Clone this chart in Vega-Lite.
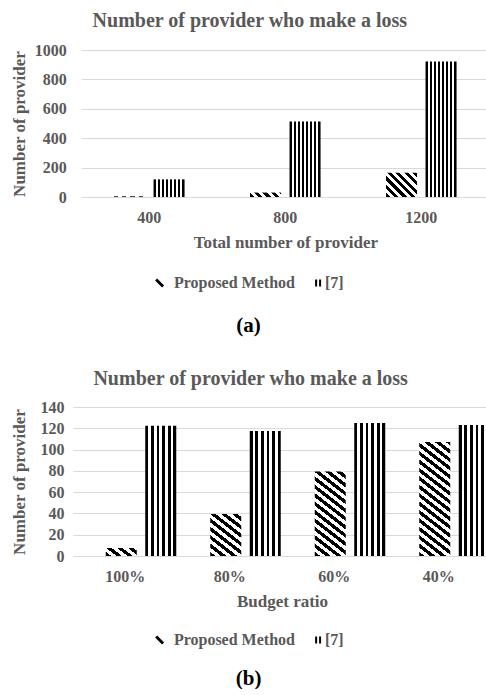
{
 "$schema": "https://vega.github.io/schema/vega-lite/v6.json",
 "background": "white",
 "padding": {"left": 10, "top": 11, "right": 0, "bottom": 0},
 "columns": 1,
 "align": "none",
 "spacing": 33,
 "resolve": {"scale": {"fill": "independent"}, "legend": {"fill": "independent"}},
 "config": {
  "font": "Liberation Serif",
  "view": {"stroke": null},
  "title": {"font": "Liberation Serif", "fontSize": 20, "fontWeight": "bold", "color": "#595959", "anchor": "middle", "frame": "bounds"},
  "axis": {"labelFont": "Liberation Serif", "labelFontWeight": "bold", "labelFontSize": 16, "labelColor": "#595959", "titleFont": "Liberation Serif", "titleFontWeight": "bold", "titleFontSize": 17, "titleColor": "#595959", "ticks": false, "gridColor": "#d9d9d9", "gridWidth": 1, "domainColor": "#d9d9d9"},
  "axisX": {"grid": false, "labelAngle": 0, "labelPadding": 12, "titlePadding": 9, "domain": true},
  "axisY": {"domain": false, "grid": true, "format": "d"},
  "legend": {"orient": "none", "direction": "horizontal", "padding": 0, "symbolSize": 225, "labelOffset": 3.3, "columnPadding": 10, "labelFont": "Liberation Serif", "labelFontSize": 16, "labelFontWeight": "bold", "labelColor": "#595959", "symbolStrokeWidth": 0, "titleOrient": "bottom", "titleAnchor": "middle", "titleAlign": "center", "titleFont": "Liberation Serif", "titleFontSize": 21, "titleFontWeight": "bold", "titleColor": "#000000", "titlePadding": 24}
 },
 "concat": [
  {
   "title": {"text": "Number of provider who make a loss", "offset": 11},
   "width": 416.3,
   "height": 147,
   "data": {"values": [
    {"cat": "400", "method": "Proposed Method", "value": 5},
    {"cat": "400", "method": "[7]", "value": 120},
    {"cat": "800", "method": "Proposed Method", "value": 30},
    {"cat": "800", "method": "[7]", "value": 514},
    {"cat": "1200", "method": "Proposed Method", "value": 165},
    {"cat": "1200", "method": "[7]", "value": 922}
   ]},
   "mark": {"type": "bar"},
   "encoding": {
    "x": {"field": "cat", "type": "ordinal", "sort": ["400", "800", "1200"], "scale": {"paddingInner": 0, "paddingOuter": 0, "range": [8.3, 416.3]}, "axis": {"title": "Total number of provider"}},
    "xOffset": {"field": "method", "type": "nominal", "sort": ["Proposed Method", "[7]"], "scale": {"paddingInner": 0.215, "paddingOuter": 0.829}},
    "y": {"field": "value", "type": "quantitative", "scale": {"domain": [0, 1000]}, "axis": {"title": "Number of provider", "values": [0, 200, 400, 600, 800, 1000], "labelPadding": 6.7, "titlePadding": 6}},
    "fill": {
     "field": "method", "type": "nominal",
     "scale": {"domain": ["Proposed Method", "[7]"], "range": ["#000000", "#000000"]},
     "legend": {"title": "(a)", "legendX": 81.6, "legendY": 225, "encode": {"symbols": {"update": {"shape": [{"test": "datum.value === '[7]'", "value": "M0.2,-0.47H0.47V0.47H0.2Z M0.73,-0.47H1V0.47H0.73Z"}, {"value": "M-1,-0.33L-0.73,-0.6L0.2,0.33L-0.07,0.6Z"}], "fill": {"value": "#000000"}, "stroke": {"value": "transparent"}}}}},
     "condition": [
      {"test": "datum.method === '[7]'", "value": {"gradient": "linear", "x1": 0, "y1": 0, "x2": 1, "y2": 0, "stops": [
       {"offset": 0, "color": "#000"}, {"offset": 0.0667, "color": "#000"}, {"offset": 0.0667, "color": "#fff"}, {"offset": 0.1333, "color": "#fff"},
       {"offset": 0.1333, "color": "#000"}, {"offset": 0.2, "color": "#000"}, {"offset": 0.2, "color": "#fff"}, {"offset": 0.2667, "color": "#fff"},
       {"offset": 0.2667, "color": "#000"}, {"offset": 0.3333, "color": "#000"}, {"offset": 0.3333, "color": "#fff"}, {"offset": 0.4, "color": "#fff"},
       {"offset": 0.4, "color": "#000"}, {"offset": 0.4667, "color": "#000"}, {"offset": 0.4667, "color": "#fff"}, {"offset": 0.5333, "color": "#fff"},
       {"offset": 0.5333, "color": "#000"}, {"offset": 0.6, "color": "#000"}, {"offset": 0.6, "color": "#fff"}, {"offset": 0.6667, "color": "#fff"},
       {"offset": 0.6667, "color": "#000"}, {"offset": 0.7333, "color": "#000"}, {"offset": 0.7333, "color": "#fff"}, {"offset": 0.8, "color": "#fff"},
       {"offset": 0.8, "color": "#000"}, {"offset": 0.8667, "color": "#000"}, {"offset": 0.8667, "color": "#fff"}, {"offset": 0.9333, "color": "#fff"},
       {"offset": 0.9333, "color": "#000"}, {"offset": 1, "color": "#000"}]}},
      {"test": "datum.cat === '400'", "value": {"gradient": "linear", "x1": 0, "y1": 1, "x2": 4.5136, "y2": 0.893, "stops": [
       {"offset": 0, "color": "#000"}, {"offset": 0.03, "color": "#000"}, {"offset": 0.03, "color": "#fff"}, {"offset": 0.06, "color": "#fff"},
       {"offset": 0.06, "color": "#000"}, {"offset": 0.09, "color": "#000"}, {"offset": 0.09, "color": "#fff"}, {"offset": 0.12, "color": "#fff"},
       {"offset": 0.12, "color": "#000"}, {"offset": 0.15, "color": "#000"}, {"offset": 0.15, "color": "#fff"}, {"offset": 0.18, "color": "#fff"},
       {"offset": 0.18, "color": "#000"}, {"offset": 0.21, "color": "#000"}, {"offset": 0.21, "color": "#fff"}, {"offset": 0.24, "color": "#fff"},
       {"offset": 0.24, "color": "#000"}, {"offset": 0.27, "color": "#000"}, {"offset": 0.27, "color": "#fff"}, {"offset": 0.3, "color": "#fff"}]}},
      {"test": "datum.cat === '800'", "value": {"gradient": "linear", "x1": 0, "y1": 1, "x2": 4.4266, "y2": 0.3703, "stops": [
       {"offset": 0, "color": "#000"}, {"offset": 0.03, "color": "#000"}, {"offset": 0.03, "color": "#fff"}, {"offset": 0.06, "color": "#fff"},
       {"offset": 0.06, "color": "#000"}, {"offset": 0.09, "color": "#000"}, {"offset": 0.09, "color": "#fff"}, {"offset": 0.12, "color": "#fff"},
       {"offset": 0.12, "color": "#000"}, {"offset": 0.15, "color": "#000"}, {"offset": 0.15, "color": "#fff"}, {"offset": 0.18, "color": "#fff"},
       {"offset": 0.18, "color": "#000"}, {"offset": 0.21, "color": "#000"}, {"offset": 0.21, "color": "#fff"}, {"offset": 0.24, "color": "#fff"},
       {"offset": 0.24, "color": "#000"}, {"offset": 0.27, "color": "#000"}, {"offset": 0.27, "color": "#fff"}, {"offset": 0.3, "color": "#fff"}]}},
      {"test": "datum.cat === '1200'", "value": {"gradient": "linear", "x1": 0, "y1": 1, "x2": 2.8013, "y2": -1.1918, "stops": [
       {"offset": 0, "color": "#000"}, {"offset": 0.03, "color": "#000"}, {"offset": 0.03, "color": "#fff"}, {"offset": 0.06, "color": "#fff"},
       {"offset": 0.06, "color": "#000"}, {"offset": 0.09, "color": "#000"}, {"offset": 0.09, "color": "#fff"}, {"offset": 0.12, "color": "#fff"},
       {"offset": 0.12, "color": "#000"}, {"offset": 0.15, "color": "#000"}, {"offset": 0.15, "color": "#fff"}, {"offset": 0.18, "color": "#fff"},
       {"offset": 0.18, "color": "#000"}, {"offset": 0.21, "color": "#000"}, {"offset": 0.21, "color": "#fff"}, {"offset": 0.24, "color": "#fff"},
       {"offset": 0.24, "color": "#000"}, {"offset": 0.27, "color": "#000"}, {"offset": 0.27, "color": "#fff"}, {"offset": 0.3, "color": "#fff"},
       {"offset": 0.3, "color": "#000"}, {"offset": 0.33, "color": "#000"}, {"offset": 0.33, "color": "#fff"}, {"offset": 0.36, "color": "#fff"},
       {"offset": 0.36, "color": "#000"}, {"offset": 0.39, "color": "#000"}, {"offset": 0.39, "color": "#fff"}, {"offset": 0.42, "color": "#fff"}]}}
     ]
    }
   }
  },
  {
   "title": {"text": "Number of provider who make a loss", "offset": 10},
   "width": 418,
   "height": 149,
   "data": {"values": [
    {"cat": "100%", "method": "Proposed Method", "value": 7.5},
    {"cat": "100%", "method": "[7]", "value": 122.5},
    {"cat": "80%", "method": "Proposed Method", "value": 39.5},
    {"cat": "80%", "method": "[7]", "value": 117.5},
    {"cat": "60%", "method": "Proposed Method", "value": 79.5},
    {"cat": "60%", "method": "[7]", "value": 125},
    {"cat": "40%", "method": "Proposed Method", "value": 107},
    {"cat": "40%", "method": "[7]", "value": 123}
   ]},
   "mark": {"type": "bar"},
   "encoding": {
    "x": {"field": "cat", "type": "ordinal", "sort": ["100%", "80%", "60%", "40%"], "scale": {"paddingInner": 0, "paddingOuter": 0}, "axis": {"title": "Budget ratio"}},
    "xOffset": {"field": "method", "type": "nominal", "sort": ["Proposed Method", "[7]"], "scale": {"paddingInner": 0.2, "paddingOuter": 0.8417}},
    "y": {"field": "value", "type": "quantitative", "scale": {"domain": [0, 140]}, "axis": {"title": "Number of provider", "values": [0, 20, 40, 60, 80, 100, 120, 140], "labelPadding": 9, "titlePadding": 11.7}},
    "fill": {
     "field": "method", "type": "nominal",
     "scale": {"domain": ["Proposed Method", "[7]"], "range": ["#000000", "#000000"]},
     "legend": {"title": "(b)", "legendX": 81.6, "legendY": 225, "titlePadding": 20, "encode": {"symbols": {"update": {"shape": [{"test": "datum.value === '[7]'", "value": "M0.2,-0.47H0.47V0.47H0.2Z M0.73,-0.47H1V0.47H0.73Z"}, {"value": "M-1,-0.33L-0.73,-0.6L0.2,0.33L-0.07,0.6Z"}], "fill": {"value": "#000000"}, "stroke": {"value": "transparent"}}}}},
     "condition": [
      {"test": "datum.method === '[7]'", "value": {"gradient": "linear", "x1": 0, "y1": 0, "x2": 1, "y2": 0, "stops": [
       {"offset": 0, "color": "#000"}, {"offset": 0.0909, "color": "#000"}, {"offset": 0.0909, "color": "#fff"}, {"offset": 0.1818, "color": "#fff"},
       {"offset": 0.1818, "color": "#000"}, {"offset": 0.2727, "color": "#000"}, {"offset": 0.2727, "color": "#fff"}, {"offset": 0.3636, "color": "#fff"},
       {"offset": 0.3636, "color": "#000"}, {"offset": 0.4545, "color": "#000"}, {"offset": 0.4545, "color": "#fff"}, {"offset": 0.5455, "color": "#fff"},
       {"offset": 0.5455, "color": "#000"}, {"offset": 0.6364, "color": "#000"}, {"offset": 0.6364, "color": "#fff"}, {"offset": 0.7273, "color": "#fff"},
       {"offset": 0.7273, "color": "#000"}, {"offset": 0.8182, "color": "#000"}, {"offset": 0.8182, "color": "#fff"}, {"offset": 0.9091, "color": "#fff"},
       {"offset": 0.9091, "color": "#000"}, {"offset": 1, "color": "#000"}]}},
      {"test": "datum.cat === '100%'", "value": {"gradient": "linear", "x1": 0, "y1": 1, "x2": 5.2524, "y2": -0.7469, "stops": [
       {"offset": 0, "color": "#000"}, {"offset": 0.03, "color": "#000"}, {"offset": 0.03, "color": "#fff"}, {"offset": 0.06, "color": "#fff"},
       {"offset": 0.06, "color": "#000"}, {"offset": 0.09, "color": "#000"}, {"offset": 0.09, "color": "#fff"}, {"offset": 0.12, "color": "#fff"},
       {"offset": 0.12, "color": "#000"}, {"offset": 0.15, "color": "#000"}, {"offset": 0.15, "color": "#fff"}, {"offset": 0.18, "color": "#fff"},
       {"offset": 0.18, "color": "#000"}, {"offset": 0.21, "color": "#000"}, {"offset": 0.21, "color": "#fff"}, {"offset": 0.24, "color": "#fff"},
       {"offset": 0.24, "color": "#000"}, {"offset": 0.27, "color": "#000"}, {"offset": 0.27, "color": "#fff"}, {"offset": 0.3, "color": "#fff"}]}},
      {"test": "datum.cat === '80%'", "value": {"gradient": "linear", "x1": 0, "y1": 1, "x2": 1.4339, "y2": -1.5116, "stops": [
       {"offset": 0, "color": "#000"}, {"offset": 0.03, "color": "#000"}, {"offset": 0.03, "color": "#fff"}, {"offset": 0.06, "color": "#fff"},
       {"offset": 0.06, "color": "#000"}, {"offset": 0.09, "color": "#000"}, {"offset": 0.09, "color": "#fff"}, {"offset": 0.12, "color": "#fff"},
       {"offset": 0.12, "color": "#000"}, {"offset": 0.15, "color": "#000"}, {"offset": 0.15, "color": "#fff"}, {"offset": 0.18, "color": "#fff"},
       {"offset": 0.18, "color": "#000"}, {"offset": 0.21, "color": "#000"}, {"offset": 0.21, "color": "#fff"}, {"offset": 0.24, "color": "#fff"},
       {"offset": 0.24, "color": "#000"}, {"offset": 0.27, "color": "#000"}, {"offset": 0.27, "color": "#fff"}, {"offset": 0.3, "color": "#fff"},
       {"offset": 0.3, "color": "#000"}, {"offset": 0.33, "color": "#000"}, {"offset": 0.33, "color": "#fff"}, {"offset": 0.36, "color": "#fff"},
       {"offset": 0.36, "color": "#000"}, {"offset": 0.39, "color": "#000"}, {"offset": 0.39, "color": "#fff"}, {"offset": 0.42, "color": "#fff"},
       {"offset": 0.42, "color": "#000"}, {"offset": 0.45, "color": "#000"}, {"offset": 0.45, "color": "#fff"}, {"offset": 0.48, "color": "#fff"},
       {"offset": 0.48, "color": "#000"}, {"offset": 0.51, "color": "#000"}, {"offset": 0.51, "color": "#fff"}, {"offset": 0.54, "color": "#fff"}]}},
      {"test": "datum.cat === '60%'", "value": {"gradient": "linear", "x1": 0, "y1": 1, "x2": 0.43439, "y2": -0.53142, "stops": [
       {"offset": 0, "color": "#000"}, {"offset": 0.03, "color": "#000"}, {"offset": 0.03, "color": "#fff"}, {"offset": 0.06, "color": "#fff"},
       {"offset": 0.06, "color": "#000"}, {"offset": 0.09, "color": "#000"}, {"offset": 0.09, "color": "#fff"}, {"offset": 0.12, "color": "#fff"},
       {"offset": 0.12, "color": "#000"}, {"offset": 0.15, "color": "#000"}, {"offset": 0.15, "color": "#fff"}, {"offset": 0.18, "color": "#fff"},
       {"offset": 0.18, "color": "#000"}, {"offset": 0.21, "color": "#000"}, {"offset": 0.21, "color": "#fff"}, {"offset": 0.24, "color": "#fff"},
       {"offset": 0.24, "color": "#000"}, {"offset": 0.27, "color": "#000"}, {"offset": 0.27, "color": "#fff"}, {"offset": 0.3, "color": "#fff"},
       {"offset": 0.3, "color": "#000"}, {"offset": 0.33, "color": "#000"}, {"offset": 0.33, "color": "#fff"}, {"offset": 0.36, "color": "#fff"},
       {"offset": 0.36, "color": "#000"}, {"offset": 0.39, "color": "#000"}, {"offset": 0.39, "color": "#fff"}, {"offset": 0.42, "color": "#fff"},
       {"offset": 0.42, "color": "#000"}, {"offset": 0.45, "color": "#000"}, {"offset": 0.45, "color": "#fff"}, {"offset": 0.48, "color": "#fff"},
       {"offset": 0.48, "color": "#000"}, {"offset": 0.51, "color": "#000"}, {"offset": 0.51, "color": "#fff"}, {"offset": 0.54, "color": "#fff"},
       {"offset": 0.54, "color": "#000"}, {"offset": 0.57, "color": "#000"}, {"offset": 0.57, "color": "#fff"}, {"offset": 0.6, "color": "#fff"},
       {"offset": 0.6, "color": "#000"}, {"offset": 0.63, "color": "#000"}, {"offset": 0.63, "color": "#fff"}, {"offset": 0.66, "color": "#fff"},
       {"offset": 0.66, "color": "#000"}, {"offset": 0.69, "color": "#000"}, {"offset": 0.69, "color": "#fff"}, {"offset": 0.72, "color": "#fff"},
       {"offset": 0.72, "color": "#000"}, {"offset": 0.75, "color": "#000"}, {"offset": 0.75, "color": "#fff"}, {"offset": 0.78, "color": "#fff"},
       {"offset": 0.78, "color": "#000"}, {"offset": 0.81, "color": "#000"}, {"offset": 0.81, "color": "#fff"}, {"offset": 0.84, "color": "#fff"}]}},
      {"test": "datum.cat === '40%'", "value": {"gradient": "linear", "x1": 0, "y1": 1, "x2": 0.24807, "y2": -0.1771, "stops": [
       {"offset": 0, "color": "#000"}, {"offset": 0.03, "color": "#000"}, {"offset": 0.03, "color": "#fff"}, {"offset": 0.06, "color": "#fff"},
       {"offset": 0.06, "color": "#000"}, {"offset": 0.09, "color": "#000"}, {"offset": 0.09, "color": "#fff"}, {"offset": 0.12, "color": "#fff"},
       {"offset": 0.12, "color": "#000"}, {"offset": 0.15, "color": "#000"}, {"offset": 0.15, "color": "#fff"}, {"offset": 0.18, "color": "#fff"},
       {"offset": 0.18, "color": "#000"}, {"offset": 0.21, "color": "#000"}, {"offset": 0.21, "color": "#fff"}, {"offset": 0.24, "color": "#fff"},
       {"offset": 0.24, "color": "#000"}, {"offset": 0.27, "color": "#000"}, {"offset": 0.27, "color": "#fff"}, {"offset": 0.3, "color": "#fff"},
       {"offset": 0.3, "color": "#000"}, {"offset": 0.33, "color": "#000"}, {"offset": 0.33, "color": "#fff"}, {"offset": 0.36, "color": "#fff"},
       {"offset": 0.36, "color": "#000"}, {"offset": 0.39, "color": "#000"}, {"offset": 0.39, "color": "#fff"}, {"offset": 0.42, "color": "#fff"},
       {"offset": 0.42, "color": "#000"}, {"offset": 0.45, "color": "#000"}, {"offset": 0.45, "color": "#fff"}, {"offset": 0.48, "color": "#fff"},
       {"offset": 0.48, "color": "#000"}, {"offset": 0.51, "color": "#000"}, {"offset": 0.51, "color": "#fff"}, {"offset": 0.54, "color": "#fff"},
       {"offset": 0.54, "color": "#000"}, {"offset": 0.57, "color": "#000"}, {"offset": 0.57, "color": "#fff"}, {"offset": 0.6, "color": "#fff"},
       {"offset": 0.6, "color": "#000"}, {"offset": 0.63, "color": "#000"}, {"offset": 0.63, "color": "#fff"}, {"offset": 0.66, "color": "#fff"},
       {"offset": 0.66, "color": "#000"}, {"offset": 0.69, "color": "#000"}, {"offset": 0.69, "color": "#fff"}, {"offset": 0.72, "color": "#fff"},
       {"offset": 0.72, "color": "#000"}, {"offset": 0.75, "color": "#000"}, {"offset": 0.75, "color": "#fff"}, {"offset": 0.78, "color": "#fff"},
       {"offset": 0.78, "color": "#000"}, {"offset": 0.81, "color": "#000"}, {"offset": 0.81, "color": "#fff"}, {"offset": 0.84, "color": "#fff"},
       {"offset": 0.84, "color": "#000"}, {"offset": 0.87, "color": "#000"}, {"offset": 0.87, "color": "#fff"}, {"offset": 0.9, "color": "#fff"},
       {"offset": 0.9, "color": "#000"}, {"offset": 0.93, "color": "#000"}, {"offset": 0.93, "color": "#fff"}, {"offset": 0.96, "color": "#fff"},
       {"offset": 0.96, "color": "#000"}, {"offset": 0.99, "color": "#000"}, {"offset": 0.99, "color": "#fff"}, {"offset": 1, "color": "#fff"}]}}
     ]
    }
   }
  }
 ]
}
